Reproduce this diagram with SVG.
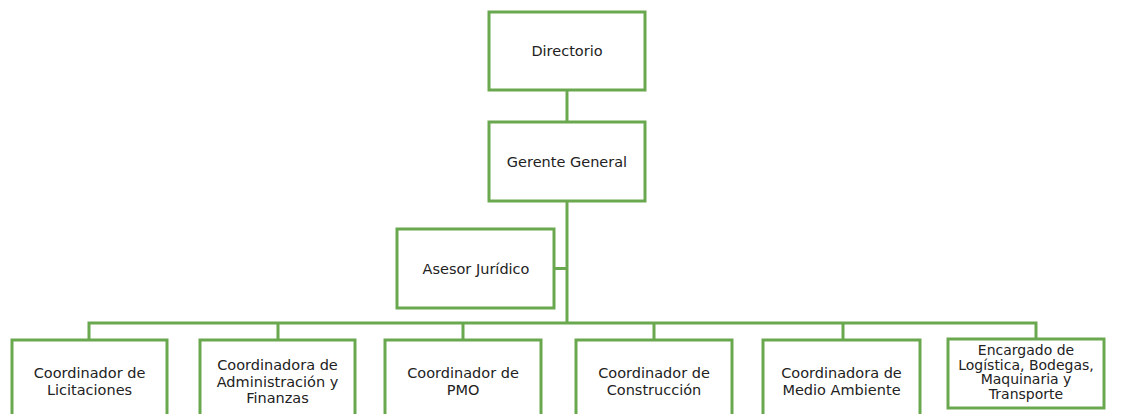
<svg xmlns="http://www.w3.org/2000/svg" width="1121" height="414" viewBox="0 0 1121 414">
<style>
.box{fill:#fff;stroke:#6aa84f;stroke-width:3}
.ln{fill:none;stroke:#6aa84f;stroke-width:3}
text{font-family:"DejaVu Sans",Verdana,sans-serif;font-size:14.5px;fill:#222;text-anchor:middle;dominant-baseline:central}
.sm{font-size:14px}
</style>
<rect width="1121" height="414" fill="#fff"/>
<g id="connectors">
<path class="ln" d="M567 90V323"/>
<path class="ln" d="M554 268.5H567"/>
<path class="ln" d="M89 340V323H1036V340"/>
<path class="ln" d="M278 323V340M463 323V340M654 323V340M843 323V340"/>
</g>
<g id="directorio"><rect class="box" x="489" y="12" width="156" height="78"/><text x="567" y="51">Directorio</text></g>
<g id="gerente"><rect class="box" x="489" y="122" width="156" height="79"/><text x="567" y="162">Gerente General</text></g>
<g id="asesor"><rect class="box" x="397" y="229" width="157" height="79"/><text x="476" y="269">Asesor Jurídico</text></g>
<g id="licitaciones"><rect class="box" x="12" y="340" width="155" height="80"/><text x="89.5" y="373">Coordinador de</text><text x="89.5" y="390">Licitaciones</text></g>
<g id="administracion"><rect class="box" x="200" y="340" width="155" height="80"/><text x="277.5" y="365">Coordinadora de</text><text x="277.5" y="381.5">Administración y</text><text x="277.5" y="398">Finanzas</text></g>
<g id="pmo"><rect class="box" x="385" y="340" width="156" height="80"/><text x="463" y="373">Coordinador de</text><text x="463" y="390">PMO</text></g>
<g id="construccion"><rect class="box" x="576" y="340" width="156" height="80"/><text x="654" y="373">Coordinador de</text><text x="654" y="390">Construcción</text></g>
<g id="medioambiente"><rect class="box" x="763" y="340" width="157" height="80"/><text x="841.5" y="373">Coordinadora de</text><text x="841.5" y="390">Medio Ambiente</text></g>
<g id="logistica"><rect class="box" x="948" y="339" width="156" height="69"/><text class="sm" x="1026" y="350">Encargado de</text><text class="sm" x="1026" y="364.5">Logística, Bodegas,</text><text class="sm" x="1026" y="379">Maquinaria y</text><text class="sm" x="1026" y="393.5">Transporte</text></g>
</svg>
